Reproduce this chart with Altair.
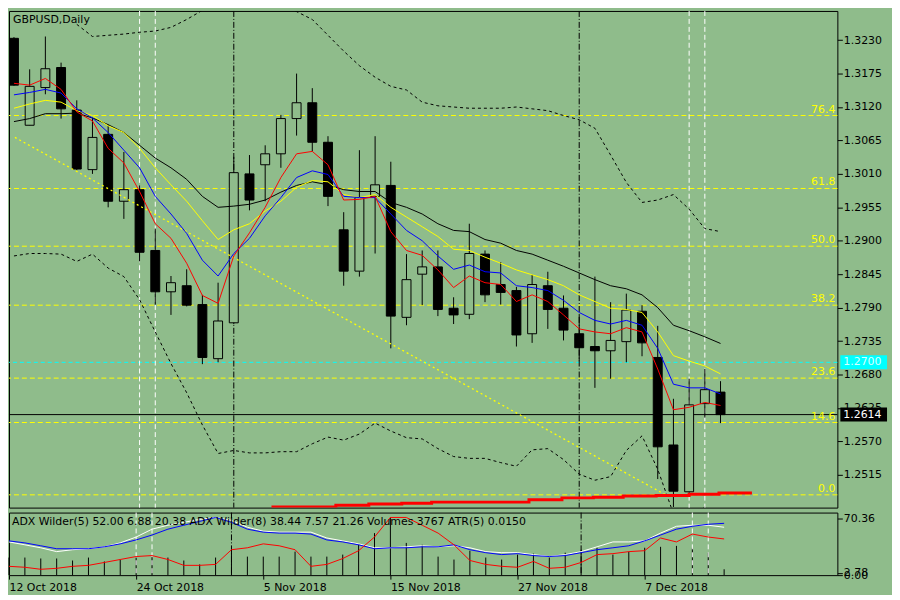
import altair as alt
import pandas as pd

BG = "#8FBC8B"
FONT = "DejaVu Sans"
W, HM, HI = 834, 500, 63

# ---------------- data ----------------
open_ = [1.3233,1.3090,1.3152,1.3185,1.3115,1.3017,1.3075,1.2965,1.2984,1.2884,1.2816,1.2826,1.2795,1.2706,1.2765,1.3010,
         1.3025,1.3043,1.3101,1.3127,1.3062,1.2918,1.2850,1.2973,1.2991,1.2774,1.2845,1.2857,1.2789,1.2779,1.2878,1.2828,
         1.2818,1.2747,1.2826,1.2789,1.2747,1.2726,1.2719,1.2734,1.2784,1.2708,1.2564,1.2487,1.2632,1.2651]
high = [1.3235,1.3182,1.3236,1.3193,1.3131,1.3102,1.3091,1.3046,1.2991,1.2920,1.2842,1.2853,1.2811,1.2831,1.3038,1.3041,
        1.3057,1.3107,1.3175,1.3151,1.3072,1.2947,1.3049,1.3072,1.3030,1.2878,1.2884,1.2884,1.2807,1.2928,1.2884,1.2865,
        1.2824,1.2844,1.2849,1.2810,1.2778,1.2841,1.2799,1.2813,1.2794,1.2760,1.2640,1.2673,1.2689,1.2669]
low = [1.3155,1.3090,1.3141,1.3101,1.3016,1.3010,1.2955,1.2936,1.2866,1.2795,1.2778,1.2792,1.2697,1.2700,1.2763,1.2950,
       1.2965,1.3020,1.3073,1.3047,1.2957,1.2826,1.2841,1.2879,1.2723,1.2761,1.2794,1.2776,1.2763,1.2771,1.2799,1.2795,
       1.2726,1.2732,1.2755,1.2736,1.2702,1.2658,1.2673,1.2700,1.2710,1.2508,1.2462,1.2480,1.2609,1.2600]
close = [1.3156,1.3154,1.3183,1.3117,1.3018,1.3070,1.2965,1.2984,1.2881,1.2816,1.2831,1.2794,1.2708,1.2768,1.3012,1.2967,
         1.3043,1.3101,1.3127,1.3062,1.2973,1.2850,1.2971,1.2992,1.2776,1.2836,1.2857,1.2787,1.2778,1.2879,1.2811,1.2815,
         1.2745,1.2828,1.2787,1.2753,1.2724,1.2719,1.2736,1.2786,1.2732,1.2561,1.2488,1.2630,1.2655,1.2614]

ma_red = [1.3159,1.3156,1.3167,1.3149,1.3112,1.3097,1.3052,1.3028,1.2981,1.2928,1.2904,1.2863,1.2810,1.2797,1.2875,1.2913,
          1.2955,1.3004,1.3043,1.3047,1.3025,1.2967,1.2968,1.2973,1.2915,1.2884,1.2876,1.2852,1.2823,1.2842,1.2831,1.2828,
          1.2800,1.2811,1.2800,1.2778,1.2755,1.2750,1.2747,1.2757,1.2750,1.2689,1.2622,1.2626,1.2634,1.2629]
ma_blue = [1.3140,1.3144,1.3149,1.3143,1.3117,1.3102,1.3078,1.3049,1.3020,1.2973,1.2944,1.2912,1.2868,1.2842,1.2879,1.2904,
           1.2941,1.2971,1.3004,1.3015,1.3009,1.2973,1.2971,1.2971,1.2944,1.2917,1.2900,1.2875,1.2853,1.2860,1.2849,1.2847,
           1.2826,1.2823,1.2818,1.2802,1.2782,1.2769,1.2763,1.2769,1.2761,1.2723,1.2664,1.2658,1.2658,1.2648]
ma_yellow = [1.3118,1.3125,1.3131,1.3128,1.3114,1.3106,1.3089,1.3078,1.3052,1.3020,1.2992,1.2965,1.2933,1.2902,1.2918,1.2928,
             1.2949,1.2965,1.2988,1.2999,1.2997,1.2976,1.2971,1.2976,1.2955,1.2939,1.2923,1.2907,1.2886,1.2884,1.2873,1.2863,
             1.2852,1.2844,1.2836,1.2826,1.2811,1.2800,1.2789,1.2787,1.2782,1.2750,1.2711,1.2702,1.2694,1.2681]
ma_black = [1.3096,1.3101,1.3109,1.3109,1.3110,1.3102,1.3091,1.3078,1.3057,1.3036,1.3020,1.3001,1.2973,1.2955,1.2957,1.2960,
            1.2967,1.2980,1.2991,1.2997,1.2992,1.2984,1.2981,1.2981,1.2963,1.2955,1.2944,1.2928,1.2917,1.2915,1.2902,1.2896,
            1.2884,1.2878,1.2868,1.2858,1.2847,1.2836,1.2826,1.2821,1.2811,1.2790,1.2761,1.2752,1.2742,1.2731]

env_upper_start = 4
env_upper = [1.3256,1.3236,1.3238,1.3240,1.3243,1.3245,1.3251,1.3264,1.3279,1.3291,1.3299,1.3299,1.3296,1.3285,1.3277,
             1.3264,1.3238,1.3212,1.3188,1.3169,1.3154,1.3148,1.3128,1.3122,1.3120,1.3118,1.3118,1.3118,1.3120,1.3117,
             1.3114,1.3106,1.3099,1.3085,1.3041,1.2996,1.2963,1.2967,1.2976,1.2952,1.2920,1.2915]
env_lower = [1.2875,1.2879,1.2879,1.2878,1.2866,1.2878,1.2855,1.2841,1.2803,1.2750,1.2698,1.2650,1.2597,1.2550,1.2555,1.2551,
             1.2551,1.2553,1.2553,1.2566,1.2577,1.2572,1.2582,1.2600,1.2587,1.2576,1.2574,1.2558,1.2545,1.2542,1.2542,1.2535,
             1.2529,1.2556,1.2558,1.2540,1.2516,1.2506,1.2512,1.2555,1.2579,1.2524,1.2451,1.2443,1.2462,1.2443]

adx_blue = [42.7,40.2,36.6,32.9,32.9,32.9,35.3,39.0,43.9,50.0,57.3,62.2,67.0,71.9,65.8,57.3,53.6,52.4,52.4,51.2,43.9,41.4,37.8,
            32.9,34.1,34.1,35.3,35.3,37.8,31.7,28.0,25.6,26.8,24.4,23.2,24.4,28.0,31.7,34.1,36.6,42.7,50.0,57.3,60.9,63.4,64.6]
adx_white = [41.4,37.8,34.1,29.3,31.7,32.9,35.3,40.2,47.5,57.3,62.2,65.8,69.5,71.9,68.3,59.7,54.8,53.6,53.6,53.6,46.3,42.7,39.0,
             34.1,34.1,35.3,36.6,35.3,36.6,34.1,29.3,28.0,28.0,25.6,23.2,25.6,29.3,35.3,41.4,41.4,42.7,52.4,60.9,62.2,62.2,59.7]
adx_red = [11.0,9.8,7.3,8.5,11.0,12.2,15.8,19.5,23.2,24.4,19.5,12.2,12.2,13.4,31.7,34.1,39.0,36.6,31.7,11.0,13.4,20.7,30.5,
           47.5,71.9,71.9,62.2,52.4,37.8,18.3,13.4,11.0,9.8,17.1,8.5,9.8,15.8,25.6,26.8,29.3,30.5,46.3,41.4,51.2,47.5,45.1]
volume = [11300,11300,10700,10700,9400,11300,8800,10000,11300,11900,11300,9400,6900,11300,16300,11900,11900,11900,15100,
          11900,11900,13200,19500,27000,37000,20700,19500,11900,10000,15700,11300,10000,13200,13800,11300,14400,16300,17600,
          13200,15100,17600,18200,18800,17600,14400,3767]

fib_names = ["0.0", "14.6", "23.6", "38.2", "50.0", "61.8", "76.4"]
fib_prices = [1.2482, 1.2601, 1.2674, 1.2794, 1.2891, 1.2986, 1.3106]

trend_idx = [0.06, 41.5]
trend_price = [1.3070, 1.2482]

stop_idx = [16.4, 20.5, 22.6, 24.7, 26.6, 32.8, 34.9, 36.9, 38.8, 40.9, 43.0, 44.9, 47.0]
stop_price = [1.2462, 1.2465, 1.2467, 1.2468, 1.2470, 1.2474, 1.2477, 1.2478, 1.2480, 1.2481, 1.2483, 1.2485, 1.2485]

white_vlines = [8, 9, 43, 44]
black_vlines = [14, 36]

current_price = 1.2614
alert_price = 1.2700

price_ticks = [1.3230, 1.3175, 1.3120, 1.3065, 1.3010, 1.2955, 1.2900, 1.2845, 1.2790, 1.2735, 1.2680, 1.2625, 1.2570, 1.2515]
ind_ticks = [0.0, 2.78, 70.36]
date_tick_idx = [0, 8, 16, 24, 32, 40]
date_tick_labels = ["12 Oct 2018", "24 Oct 2018", "5 Nov 2018", "15 Nov 2018", "27 Nov 2018", "7 Dec 2018"]

title_text = "GBPUSD,Daily"
ind_text = "ADX Wilder(5) 52.00 6.88 20.38 ADX Wilder(8) 38.44 7.57 21.26 Volumes 3767 ATR(5) 0.0150"

# ---------------- tables ----------------
n = len(close)
idx = list(range(n))
candles = pd.DataFrame({"i": idx, "o": open_, "h": high, "l": low, "c": close})
up_c = candles[candles.c >= candles.o]
dn_c = candles[candles.c < candles.o]
mas = pd.DataFrame({"i": idx, "red": ma_red, "blue": ma_blue, "yellow": ma_yellow, "black": ma_black,
                    "lo": env_lower})
env_up_df = pd.DataFrame({"i": list(range(env_upper_start, env_upper_start + len(env_upper))), "p": env_upper})
fib_df = pd.DataFrame({"name": fib_names, "p": fib_prices})
trend_df = pd.DataFrame({"i": trend_idx, "p": trend_price})
stop_df = pd.DataFrame({"i": stop_idx, "p": stop_price})
wv_df = pd.DataFrame({"i": white_vlines})
bv_df = pd.DataFrame({"i": black_vlines})
ind_df = pd.DataFrame({"i": idx, "blue": adx_blue, "white": adx_white, "red": adx_red,
                       "vol": volume, "base": [0] * n})
alert_df = pd.DataFrame({"p": [alert_price], "label": [f"{alert_price:.4f}"]})
cur_df = pd.DataFrame({"p": [current_price], "label": [f"{current_price:.4f}"]})

# ---------------- scales / axes ----------------
xscale = alt.Scale(domain=[0, W / 16.0], nice=False, zero=False)
yscale = alt.Scale(domain=[1.2461, 1.3278], nice=False, zero=False)
iscale = alt.Scale(domain=[0, 78], nice=False, zero=False)
vscale = alt.Scale(domain=[0, 40200], nice=False, zero=True)

yaxis = alt.Axis(orient="right", values=price_ticks, format=".4f", labelFont=FONT, labelFontSize=11,
                 labelColor="black", tickColor="black", tickSize=5, labelPadding=1, domain=False,
                 grid=False, title=None, labelOverlap=False, labelFlush=False)
iaxis = alt.Axis(orient="right", values=ind_ticks, format=".2f", labelFont=FONT, labelFontSize=11,
                 labelColor="black", tickColor="black", tickSize=5, labelPadding=1, domain=False,
                 grid=False, title=None, labelOverlap=False, labelFlush=False)
expr = ""
for v, lab in zip(date_tick_idx, date_tick_labels):
    expr += f"datum.value == {v} ? '{lab}' : "
expr += "''"
xaxis = alt.Axis(values=date_tick_idx, labelExpr=expr, labelAlign="left", labelFont=FONT, labelFontSize=11,
                 labelColor="black", tickColor="black", tickSize=4, labelPadding=2, domain=False, grid=False,
                 title=None, labelOverlap=False, labelFlush=False)


def XM(f):
    return alt.X(f, type="quantitative", scale=xscale, axis=None)


def XI(f):
    return alt.X(f, type="quantitative", scale=xscale, axis=xaxis)


def YM(f):
    return alt.Y(f, type="quantitative", scale=yscale, axis=yaxis)


def YI(f):
    return alt.Y(f, type="quantitative", scale=iscale, axis=iaxis)


# ---------------- main panel ----------------
fib_rules = alt.Chart(fib_df).mark_rule(color="#FFFF00", strokeDash=[5, 3], strokeWidth=1).encode(y=YM("p"))
fib_text = alt.Chart(fib_df).mark_text(align="right", baseline="bottom", dy=-1, font=FONT, fontSize=11,
                                       color="#FFFF00").encode(x=alt.value(W - 2), y=YM("p"), text="name:N")
alert_rule = alt.Chart(alert_df).mark_rule(color="#00FFFF", strokeDash=[4, 3]).encode(y=YM("p"))
cur_rule = alt.Chart(cur_df).mark_rule(color="black", strokeWidth=1).encode(y=YM("p"))
wv = alt.Chart(wv_df).mark_rule(color="white", strokeDash=[5, 3]).encode(x=XM("i"))
bv = alt.Chart(bv_df).mark_rule(color="black", strokeDash=[6, 2, 1, 2]).encode(x=XM("i"))

wicks = alt.Chart(candles).mark_rule(color="black", strokeWidth=1, clip=True).encode(
    x=XM("i"), y=YM("l"), y2=alt.Y2("h"))
up_bodies = alt.Chart(up_c).mark_bar(size=9, fill=BG, stroke="black", strokeWidth=1, opacity=1, clip=True).encode(
    x=XM("i"), y=YM("o"), y2=alt.Y2("c"))
dn_bodies = alt.Chart(dn_c).mark_bar(size=9, fill="black", stroke="black", strokeWidth=1, opacity=1,
                                     clip=True).encode(x=XM("i"), y=YM("o"), y2=alt.Y2("c"))

env_up = alt.Chart(env_up_df).mark_line(color="black", strokeDash=[3, 3], strokeWidth=1, clip=True).encode(
    x=XM("i"), y=YM("p"))
env_lo = alt.Chart(mas).mark_line(color="black", strokeDash=[3, 3], strokeWidth=1, clip=True).encode(
    x=XM("i"), y=YM("lo"))
trend = alt.Chart(trend_df).mark_line(color="#FFFF00", strokeDash=[2, 3], strokeWidth=1.3, clip=True).encode(
    x=XM("i"), y=YM("p"))


def ma_line(col, color):
    return alt.Chart(mas).mark_line(color=color, strokeWidth=1, clip=True).encode(x=XM("i"), y=YM(col))


stop = alt.Chart(stop_df).mark_line(color="#FF0000", strokeWidth=3, interpolate="step-after", clip=True).encode(
    x=XM("i"), y=YM("p"))

title = alt.Chart(pd.DataFrame({"t": [title_text]})).mark_text(
    align="left", baseline="top", font=FONT, fontSize=11, color="black").encode(
    x=alt.value(4), y=alt.value(3), text="t:N")

BOX = "M-1,-0.3H1V0.3H-1Z"
alert_box = alt.Chart(alert_df).mark_point(shape=BOX, size=47 * 47, filled=True, opacity=1, strokeWidth=0,
                                           color="#00FFFF").encode(x=alt.value(W + 26.5), y=YM("p"))
alert_txt = alt.Chart(alert_df).mark_text(align="left", baseline="middle", font=FONT, fontSize=11,
                                          color="#D8FFFF").encode(x=alt.value(W + 6), y=YM("p"), text="label:N")
cur_box = alt.Chart(cur_df).mark_point(shape=BOX, size=47 * 47, filled=True, opacity=1, strokeWidth=0,
                                       color="black").encode(x=alt.value(W + 26.5), y=YM("p"))
cur_txt = alt.Chart(cur_df).mark_text(align="left", baseline="middle", font=FONT, fontSize=11,
                                      color="white").encode(x=alt.value(W + 6), y=YM("p"), text="label:N")

main = alt.layer(
    fib_rules, alert_rule, cur_rule, wv, bv, wicks, up_bodies, dn_bodies, fib_text,
    env_up, env_lo, trend,
    ma_line("black", "black"), ma_line("yellow", "#FFFF00"), ma_line("blue", "#0000FF"), ma_line("red", "#FF0000"),
    stop, title, alert_box, alert_txt, cur_box, cur_txt,
).properties(width=W, height=HM)

# ---------------- indicator panel ----------------
vol = alt.Chart(ind_df).mark_rule(color="black", strokeWidth=1).encode(
    x=XI("i"), y=alt.Y("vol:Q", scale=vscale, axis=None), y2=alt.Y2("base"))
wv_i = alt.Chart(wv_df).mark_rule(color="white", strokeDash=[5, 3]).encode(x=XI("i"))
bv_i = alt.Chart(bv_df).mark_rule(color="black", strokeDash=[6, 2, 1, 2]).encode(x=XI("i"))


def ind_line(col, color):
    return alt.Chart(ind_df).mark_line(color=color, strokeWidth=1, clip=True).encode(x=XI("i"), y=YI(col))


ind_label = alt.Chart(pd.DataFrame({"t": [ind_text]})).mark_text(
    align="left", baseline="top", font=FONT, fontSize=11, color="black").encode(
    x=alt.value(3), y=alt.value(4), text="t:N")

ind_lines = alt.layer(wv_i, bv_i, ind_line("white", "white"), ind_line("blue", "#0000FF"),
                      ind_line("red", "#FF0000"), ind_label)
ind = alt.layer(vol, ind_lines).resolve_scale(y="independent").properties(width=W, height=HI)

chart = alt.vconcat(main, ind, spacing=3).properties(
    padding={"left": 0, "top": 0, "right": 4, "bottom": 0}
).configure(background=BG).configure_view(stroke="black", strokeWidth=1, fill=BG)

chart.save("out.html", embed_options={"renderer": "svg", "actions": False})
